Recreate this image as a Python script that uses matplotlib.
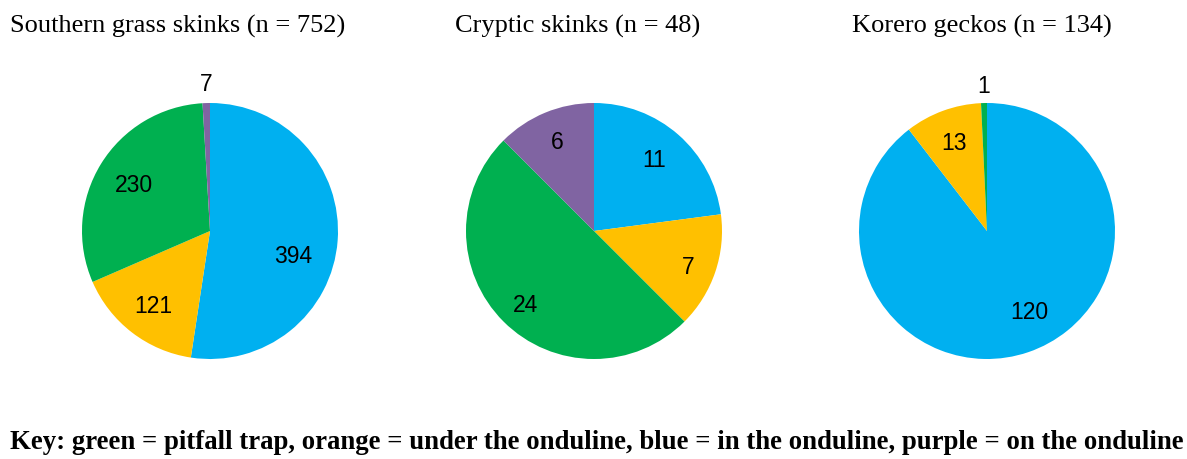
import numpy as np
import matplotlib.pyplot as plt

# counts per capture location: blue = in, orange = under, green = pitfall, purple = on
titles = ["Southern grass skinks (n = 752)", "Cryptic skinks (n = 48)", "Korero geckos (n = 134)"]
grass_skinks = [394, 121, 230, 7]
cryptic_skinks = [11, 7, 24, 6]
korero_geckos = [120, 13, 1]
key_text = "Key: green = pitfall trap, orange = under the onduline, blue = in the onduline, purple = on the onduline"

colors4 = ["#00B0F0", "#FFC000", "#00B050", "#8064A2"]
colors3 = ["#00B0F0", "#FFC000", "#00B050"]

W, H = 1187, 460
fig = plt.figure(figsize=(W / 100, H / 100), dpi=100)

# label placement tweaks (distance in radii, angle offset deg)
label_style = [
    ([0.68, 0.73, 0.70, 1.15], [-12, 0, 0, 0]),
    ([0.73, 0.79, 0.78, 0.76], [1, -2, 2, 0]),
    ([0.71, 0.74, 1.14], [9, 0, 0]),
]
centers = [210, 594, 987]
title_x = [10, 455, 852]
data = [grass_skinks, cryptic_skinks, korero_geckos]
cols = [colors4, colors4, colors3]

R = 128
for i, vals in enumerate(data):
    cx, cy = centers[i], 232
    ax = fig.add_axes([(cx - R) / W, 1 - (cy + R) / H, 2 * R / W, 2 * R / H])
    wedges, _ = ax.pie(vals, colors=cols[i], startangle=90, counterclock=False,
                       wedgeprops=dict(linewidth=0))
    ax.set_xlim(-1, 1)
    ax.set_ylim(-1, 1)
    ax.set_aspect("equal")
    ax.axis("off")
    dists, offs = label_style[i]
    for w, v, d, o in zip(wedges, vals, dists, offs):
        ang = np.deg2rad((w.theta1 + w.theta2) / 2 + o)
        ax.text(d * np.cos(ang), d * np.sin(ang), str(v), ha="center", va="center",
                fontsize=16.5, family="Liberation Sans", clip_on=False)
    fig.text(title_x[i] / W, 1 - 26 / H, titles[i], fontsize=19, family="Liberation Serif",
             ha="left", va="center")

fig.text(10 / W, 1 - 443 / H, key_text, fontsize=19.25, family="Liberation Serif",
         weight="bold", ha="left", va="center")

fig.savefig("out.png", dpi=100)
